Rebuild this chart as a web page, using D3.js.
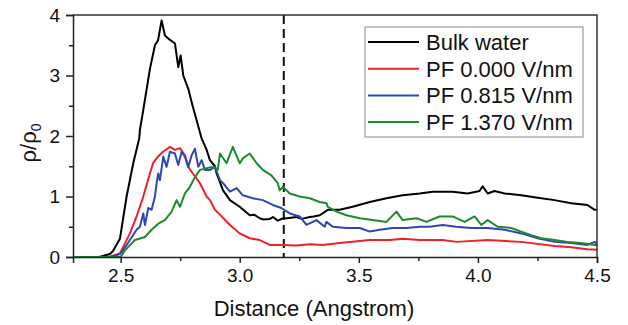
<!DOCTYPE html>
<html>
<head>
<meta charset="utf-8">
<script src="https://cdn.jsdelivr.net/npm/d3@7"></script>
<style>
  body { margin: 0; background: #fff; }
  svg { display: block; font-family: Arial, "Liberation Sans", sans-serif; }
</style>
</head>
<body>
<svg id="chart" width="628" height="325"></svg>
<script>
// series as [distance, rho/rho0]
const bulkWater = [[2.30,0],[2.41,0],[2.455,0.05],[2.468,0.10],[2.497,0.30],[2.525,1.0],[2.553,1.55],[2.578,1.96],[2.581,2.10],
  [2.595,2.43],[2.623,3.11],[2.644,3.50],[2.657,3.58],[2.672,3.91],[2.686,3.66],[2.70,3.61],[2.714,3.57],[2.728,3.53],
  [2.742,3.14],[2.752,3.33],[2.763,3.0],[2.784,2.78],[2.798,2.56],[2.819,2.26],[2.84,1.96],[2.861,1.77],[2.875,1.60],
  [2.896,1.50],[2.903,1.38],[2.93,1.10],[2.959,0.94],[3.0,0.83],[3.042,0.69],[3.06,0.70],[3.084,0.64],[3.10,0.62],
  [3.126,0.63],[3.14,0.66],[3.16,0.60],[3.181,0.64],[3.20,0.64],[3.238,0.66],[3.26,0.63],[3.294,0.66],[3.31,0.67],
  [3.336,0.69],[3.37,0.78],[3.42,0.78],[3.474,0.83],[3.546,0.91],[3.616,0.97],[3.684,1.02],[3.756,1.05],[3.81,1.08],
  [3.894,1.08],[3.957,1.05],[4.007,1.09],[4.02,1.17],[4.041,1.05],[4.07,1.09],[4.112,1.05],[4.182,1.02],[4.251,0.98],
  [4.322,0.94],[4.392,0.89],[4.46,0.86],[4.49,0.78],[4.50,0.78]];

const pf0000 = [[2.30,0],[2.45,0],[2.497,0.06],[2.539,0.39],[2.567,0.67],[2.595,1.0],[2.623,1.38],[2.636,1.55],[2.657,1.66],
  [2.678,1.74],[2.707,1.82],[2.728,1.77],[2.749,1.80],[2.77,1.68],[2.784,1.49],[2.803,1.38],[2.833,1.22],[2.861,1.0],
  [2.875,0.94],[2.896,0.78],[2.917,0.70],[2.959,0.53],[3.0,0.39],[3.042,0.31],[3.084,0.28],[3.126,0.20],[3.181,0.20],
  [3.238,0.19],[3.294,0.21],[3.349,0.20],[3.42,0.23],[3.546,0.28],[3.63,0.28],[3.684,0.30],[3.756,0.28],[3.852,0.28],
  [3.911,0.25],[4.041,0.28],[4.182,0.25],[4.322,0.18],[4.392,0.16],[4.46,0.13],[4.50,0.12]];

const pf0815 = [[2.30,0],[2.46,0],[2.497,0.05],[2.51,0.11],[2.539,0.28],[2.567,0.45],[2.581,0.50],[2.595,0.72],[2.602,0.53],
  [2.616,0.81],[2.63,0.78],[2.644,1.0],[2.651,1.22],[2.658,1.38],[2.665,1.27],[2.679,1.66],[2.693,1.49],[2.707,1.74],
  [2.728,1.71],[2.742,1.52],[2.756,1.74],[2.77,1.66],[2.784,1.49],[2.798,1.68],[2.812,1.79],[2.826,1.49],[2.84,1.60],
  [2.854,1.44],[2.875,1.44],[2.896,1.49],[2.917,1.27],[2.93,1.22],
  [2.959,1.08],[2.987,1.14],[3.013,1.02],[3.055,0.97],[3.097,0.94],[3.139,0.86],[3.175,0.81],[3.21,0.72],[3.252,0.67],
  [3.28,0.53],[3.322,0.61],[3.357,0.50],[3.364,0.58],[3.391,0.50],[3.448,0.48],[3.504,0.48],[3.546,0.42],[3.588,0.45],
  [3.642,0.48],[3.70,0.48],[3.756,0.50],[3.797,0.50],[3.852,0.53],[3.909,0.50],[3.972,0.48],[4.041,0.48],[4.112,0.45],
  [4.182,0.39],[4.251,0.31],[4.322,0.25],[4.392,0.23],[4.46,0.20],[4.49,0.25],[4.50,0.22]];

const pf1370 = [[2.30,0],[2.50,0],[2.518,0.11],[2.56,0.28],[2.602,0.33],[2.63,0.45],[2.658,0.55],[2.686,0.61],[2.714,0.75],
  [2.735,0.94],[2.749,0.83],[2.77,1.05],[2.791,1.16],[2.812,1.32],[2.833,1.44],[2.854,1.46],[2.882,1.49],[2.908,1.44],
  [2.917,1.71],[2.945,1.55],[2.971,1.82],
  [3.0,1.55],[3.013,1.63],[3.042,1.71],[3.071,1.55],[3.097,1.44],[3.133,1.35],[3.16,1.22],[3.168,1.10],[3.181,1.16],
  [3.21,1.05],[3.252,1.0],[3.294,0.97],[3.336,0.91],[3.364,0.89],[3.37,0.83],[3.406,0.75],[3.448,0.69],[3.504,0.64],
  [3.558,0.61],[3.616,0.58],[3.658,0.75],[3.684,0.61],[3.742,0.64],[3.784,0.58],[3.839,0.67],[3.894,0.67],[3.944,0.58],
  [3.986,0.67],[4.014,0.53],[4.041,0.61],[4.083,0.50],[4.14,0.48],[4.182,0.42],[4.224,0.36],[4.266,0.31],[4.322,0.28],
  [4.376,0.25],[4.434,0.23],[4.49,0.20],[4.50,0.20]];

const seriesNames = ["Bulk water", "PF 0.000 V/nm", "PF 0.815 V/nm", "PF 1.370 V/nm"];
const seriesColors = ["#000000", "#ee2028", "#2f46b4", "#1d8a2e"];
const xTicks = [2.5, 3.0, 3.5, 4.0, 4.5];
const yTicks = [0, 1, 2, 3, 4];
const xDomain = [2.3, 4.5];
const yDomain = [0, 4];
const dashedAt = 3.185;

const margin = {top: 15, right: 31, bottom: 68, left: 73};
const svg = d3.select("#chart");
const width = +svg.attr("width") - margin.left - margin.right;
const height = +svg.attr("height") - margin.top - margin.bottom;

const x = d3.scaleLinear().domain(xDomain).range([margin.left, margin.left + width]);
const y = d3.scaleLinear().domain(yDomain).range([margin.top + height, margin.top]);

svg.append("clipPath").attr("id", "plotClip")
  .append("rect")
  .attr("x", margin.left).attr("y", margin.top)
  .attr("width", width).attr("height", height);

// dashed marker line
svg.append("line")
  .attr("x1", x(dashedAt)).attr("x2", x(dashedAt))
  .attr("y1", y(4)).attr("y2", y(0))
  .attr("stroke", "#111").attr("stroke-width", 2)
  .attr("stroke-dasharray", "9,5");

const line = d3.line().x(d => x(d[0])).y(d => y(d[1]));
const allSeries = [bulkWater, pf0000, pf0815, pf1370];
svg.append("g").attr("clip-path", "url(#plotClip)")
  .selectAll("path")
  .data(allSeries)
  .enter()
  .append("path")
  .attr("d", line)
  .attr("fill", "none")
  .attr("stroke", (d, i) => seriesColors[i])
  .attr("stroke-width", 2)
  .attr("stroke-linejoin", "round");

// frame (top + right)
svg.append("path")
  .attr("d", `M${x(xDomain[0])},${y(4)}H${x(xDomain[1])}V${y(0)}`)
  .attr("fill", "none").attr("stroke", "#333").attr("stroke-width", 1.5);

// axes
const xAxis = svg.append("g")
  .attr("transform", `translate(0,${y(0)})`)
  .call(d3.axisBottom(x).tickValues(xTicks).tickFormat(d3.format(".1f")).tickSize(6).tickPadding(6));
const xMinor = svg.append("g")
  .attr("transform", `translate(0,${y(0)})`)
  .call(d3.axisBottom(x).tickValues([2.75, 3.25, 3.75, 4.25]).tickFormat("").tickSize(4));
const yAxis = svg.append("g")
  .attr("transform", `translate(${x(xDomain[0])},0)`)
  .call(d3.axisLeft(y).tickValues(yTicks).tickFormat(d3.format("d")).tickSize(7).tickPadding(6));
const yMinor = svg.append("g")
  .attr("transform", `translate(${x(xDomain[0])},0)`)
  .call(d3.axisLeft(y).tickValues([0.5, 1.5, 2.5, 3.5]).tickFormat("").tickSize(4));

[xMinor, yMinor].forEach(g => g.select(".domain").remove());
[xAxis, yAxis, xMinor, yMinor].forEach(g => {
  g.selectAll(".domain").attr("stroke", "#222").attr("stroke-width", 1.5);
  g.selectAll(".tick line").attr("stroke", "#222").attr("stroke-width", 1.5);
  g.selectAll("text").attr("font-size", 19).attr("fill", "#111")
    .attr("font-family", "Arial, 'Liberation Sans', sans-serif");
});

// axis titles
svg.append("text")
  .attr("x", 314).attr("y", 316)
  .attr("text-anchor", "middle")
  .attr("font-size", 22).attr("fill", "#111")
  .text("Distance (Angstrom)");

const yTitle = svg.append("text")
  .attr("transform", "translate(36,143) rotate(-90)")
  .attr("text-anchor", "middle")
  .attr("font-size", 22).attr("fill", "#111");
yTitle.append("tspan").text("ρ/ρ");
yTitle.append("tspan").attr("font-size", 14).attr("dy", 5).text("0");

// legend
const legend = svg.append("g");
legend.append("rect")
  .attr("x", 365).attr("y", 27).attr("width", 218).attr("height", 110)
  .attr("fill", "#fff").attr("stroke", "#888").attr("stroke-width", 1);
const rows = legend.selectAll("g.row")
  .data(seriesNames)
  .enter()
  .append("g")
  .attr("class", "row")
  .attr("transform", (d, i) => `translate(0,${42 + i * 26.7})`);
rows.append("line")
  .attr("x1", 368).attr("x2", 419)
  .attr("stroke", (d, i) => seriesColors[i]).attr("stroke-width", 2);
rows.append("text")
  .attr("x", 426).attr("y", 8)
  .attr("font-size", 22).attr("fill", "#111")
  .text(d => d);
</script>
</body>
</html>
